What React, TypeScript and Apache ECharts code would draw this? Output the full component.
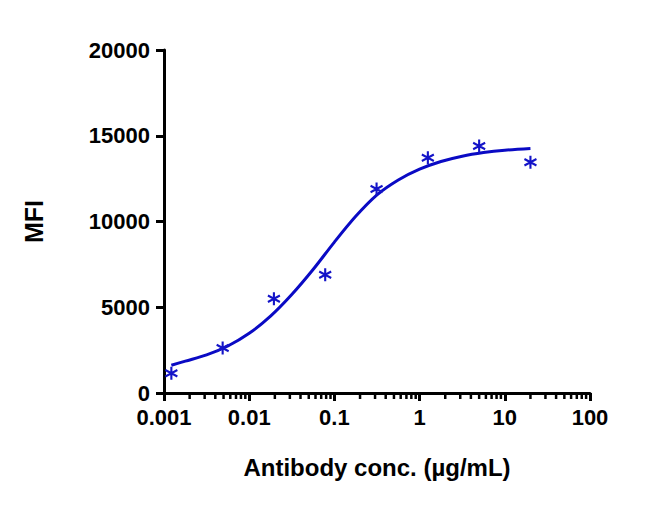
import React, { useEffect, useRef } from "react";
import * as echarts from "echarts";

const xTickLabels = ["0.001", "0.01", "0.1", "1", "10", "100"];
const yTickLabels = ["0", "5000", "10000", "15000", "20000"];

// measured points (concentration µg/mL, MFI)
const pointConc = [0.00122, 0.00488, 0.0195, 0.078, 0.3125, 1.25, 5, 20];
const pointMFI = [1150, 2620, 5500, 6900, 11900, 13720, 14400, 13450];

// fitted curve
const curveConc = [0.00122, 0.00178, 0.00316, 0.00562, 0.01, 0.0178, 0.0316, 0.0562, 0.1, 0.178, 0.316, 0.562, 1, 1.78, 3.16, 5.62, 10, 20];
const curveMFI = [1620, 1860, 2220, 2740, 3480, 4480, 5740, 7200, 8800, 10300, 11550, 12420, 13050, 13500, 13810, 14020, 14160, 14260];

const minorTickValues: number[] = [];
for (let d = -3; d < 2; d++) {
  for (let m = 2; m <= 9; m++) minorTickValues.push(+(m * Math.pow(10, d)).toPrecision(3));
}

const BLUE = "#0a0ac4";
const STAR = "#1414c8";
const FONT = "Liberation Sans";

export default function App() {
  const ref = useRef<HTMLDivElement>(null);
  useEffect(() => {
    if (!ref.current) return;
    const chart = echarts.init(ref.current, null, { renderer: "svg" });
    chart.setOption({
      animation: false,
      backgroundColor: "#ffffff",
      grid: { left: 164, right: 74, top: 50, bottom: 116 },
      xAxis: {
        type: "log",
        logBase: 10,
        min: 0.001,
        max: 100,
        name: "Antibody conc. (µg/mL)",
        nameLocation: "middle",
        nameGap: 62,
        nameTextStyle: { fontFamily: FONT, fontWeight: "bold", fontSize: 24, color: "#000" },
        axisLine: { lineStyle: { color: "#000", width: 3 } },
        axisTick: { length: 8, lineStyle: { color: "#000", width: 3 } },
        axisLabel: {
          fontFamily: FONT,
          fontWeight: "bold",
          fontSize: 22,
          color: "#000",
          margin: 13,
          formatter: (_v: number, i: number) => xTickLabels[i] ?? "",
        },
        splitLine: { show: false },
        minorTick: { show: false },
      },
      yAxis: {
        type: "value",
        min: 0,
        max: 20000,
        interval: 5000,
        name: "MFI",
        nameLocation: "middle",
        nameGap: 118,
        nameTextStyle: { fontFamily: FONT, fontWeight: "bold", fontSize: 25, color: "#000" },
        axisLine: { show: true, lineStyle: { color: "#000", width: 3 } },
        axisTick: { show: true, length: 8, lineStyle: { color: "#000", width: 3 } },
        axisLabel: {
          fontFamily: FONT,
          fontWeight: "bold",
          fontSize: 22,
          color: "#000",
          margin: 14,
          formatter: (_v: number, i: number) => yTickLabels[i] ?? "",
        },
        splitLine: { show: false },
      },
      series: [
        {
          type: "custom",
          silent: true,
          data: minorTickValues.map((v) => [v, 0]),
          renderItem: (_params: any, api: any) => {
            const p = api.coord([api.value(0), 0]);
            return {
              type: "line",
              shape: { x1: p[0], y1: p[1], x2: p[0], y2: p[1] + 6 },
              style: { stroke: "#000", lineWidth: 2.5 },
            };
          },
          z: 1,
        },
        {
          type: "line",
          data: curveConc.map((c, i) => [c, curveMFI[i]]),
          smooth: 0.3,
          showSymbol: false,
          lineStyle: { color: BLUE, width: 3 },
          z: 3,
        },
        {
          type: "scatter",
          data: pointConc.map((c, i) => [c, pointMFI[i]]),
          symbol: "path://M5 0 L5 10 M0.67 2.5 L9.33 7.5 M0.67 7.5 L9.33 2.5",
          symbolSize: [12, 13],
          itemStyle: { color: "transparent", borderColor: STAR, borderWidth: 2.2, opacity: 1 },
          z: 4,
        },
      ],
    });
    return () => chart.dispose();
  }, []);
  return (
    <div
      ref={ref}
      style={{ position: "fixed", left: 0, top: 0, width: 664, height: 509 }}
    />
  );
}
